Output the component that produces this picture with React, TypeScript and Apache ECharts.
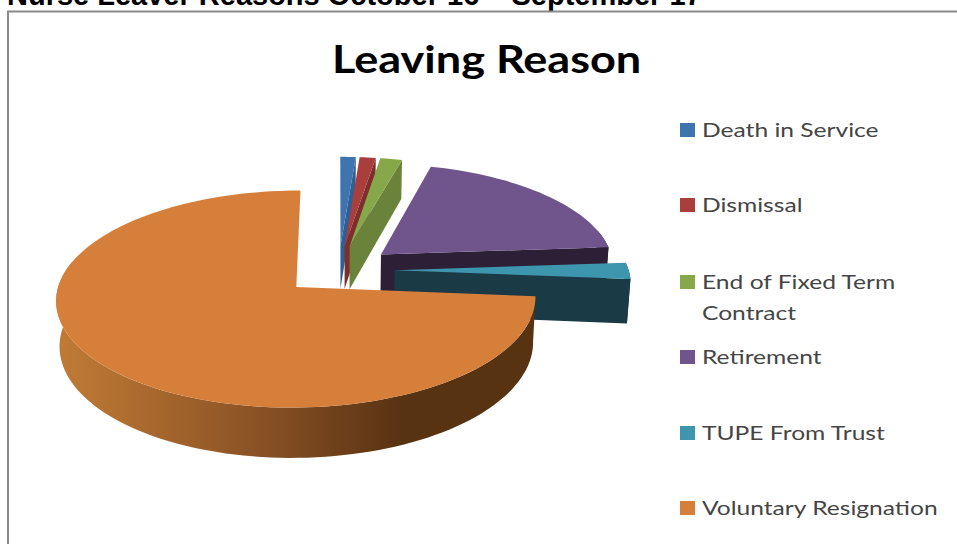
import React, { useEffect, useRef } from "react";
import * as echarts from "echarts";

const CATEGORIES = [
  "Death in Service",
  "Dismissal",
  "End of Fixed Term Contract",
  "Retirement",
  "TUPE From Trust",
  "Voluntary Resignation",
];
const LEGEND_LINES = [
  ["Death in Service"],
  ["Dismissal"],
  ["End of Fixed Term", "Contract"],
  ["Retirement"],
  ["TUPE From Trust"],
  ["Voluntary Resignation"],
];
const SHARES = [1.2, 1.25, 1.7, 19.7, 2.5, 73.65];
const TOP_COLORS = ["#3f74ae", "#a83f3c", "#86a74a", "#70548c", "#3d96ae", "#d67f3a"];
const WALL_COLORS = ["#2f5f96", "#7e2f2d", "#6a8239", "#2d2036", "#1a3a46", "#5a3414"];

// Projection of the tilted pie: plan coordinates are in radius units.
const CX = 338.4;
const CY = 270;
const RADIUS_X = 234;
const RADIUS_Y = 103.5;
const PERSPECTIVE = 0.108;
const EXPLODE = 0.24;
const THICKNESS = 44;

const project = (u: number, v: number, low: boolean) => {
  const s = 1 / (1 - PERSPECTIVE * v);
  const shrink = low ? 0.988 : 1;
  return [CX + RADIUS_X * u * s * shrink, CY + RADIUS_Y * v * s + (low ? THICKNESS * s : 0)];
};

const rad = (deg: number) => (deg * Math.PI) / 180;

const sliceRanges = () => {
  const total = SHARES.reduce((a, b) => a + b, 0);
  let acc = 0;
  return SHARES.map((value) => {
    const start = (acc / total) * 360;
    acc += value;
    return [start, (acc / total) * 360];
  });
};

const renderSlice = (params: any) => {
  const i = params.dataIndex;
  const [start, end] = sliceRanges()[i];
  const mid = rad((start + end) / 2);
  const ou = EXPLODE * Math.sin(mid);
  const ov = -EXPLODE * Math.cos(mid);
  const rim = (deg: number, low: boolean) =>
    project(ou + Math.sin(rad(deg)), ov - Math.cos(rad(deg)), low);
  const steps = Math.max(4, Math.ceil((end - start) / 2));
  const topArc: number[][] = [];
  const wallTop: number[][] = [];
  const wallLow: number[][] = [];
  for (let k = 0; k <= steps; k++) {
    const a = start + ((end - start) * k) / steps;
    topArc.push(rim(a, false));
    // The far part of the rim is hidden by the slice's own top face.
    if (Math.cos(rad(a)) < 0.25) {
      wallTop.push(rim(a, false));
      wallLow.push(rim(a, true));
    }
  }
  const apexTop = project(ou, ov, false);
  const apexLow = project(ou, ov, true);
  const isLast = i === SHARES.length - 1;
  const wallFill = isLast
    ? new echarts.graphic.LinearGradient(0, 0, 1, 0, [
        { offset: 0, color: "#c07b36" },
        { offset: 0.18, color: "#ab6a2e" },
        { offset: 0.45, color: "#854f24" },
        { offset: 0.72, color: "#583312" },
        { offset: 1, color: "#583312" },
      ])
    : WALL_COLORS[i];
  const children: any[] = [];
  if (wallTop.length > 1) {
    children.push({
      type: "polygon",
      shape: { points: [...wallTop, ...wallLow.slice().reverse()] },
      style: { fill: wallFill },
    });
  }
  if (!isLast) {
    children.push({
      type: "polygon",
      shape: { points: [apexTop, topArc[steps], rim(end, true), apexLow] },
      style: { fill: WALL_COLORS[i] },
    });
  }
  children.push({
    type: "polygon",
    shape: { points: [apexTop, ...topArc] },
    style: { fill: TOP_COLORS[i] },
  });
  return { type: "group", children };
};

const LEGEND_ROWS = [130, 205, 282, 357, 433, 508];

const legendGraphics = () =>
  CATEGORIES.flatMap((name, i) => [
    {
      type: "rect",
      shape: { x: 680, y: LEGEND_ROWS[i] - 7, width: 15, height: 14 },
      style: { fill: TOP_COLORS[i] },
    },
    ...LEGEND_LINES[i].map((line, k) => ({
      type: "text",
      x: 702,
      y: LEGEND_ROWS[i] - 1 + k * 31,
      scaleX: 1.23,
      style: {
        text: line,
        fill: "#454545",
        font: '20px "Lato", sans-serif',
        textVerticalAlign: "middle",
      },
    })),
  ]);

export default function App() {
  const ref = useRef<HTMLDivElement>(null);
  useEffect(() => {
    const chart = echarts.init(ref.current!, undefined, { renderer: "svg" });
    chart.setOption({
      animation: false,
      backgroundColor: "#ffffff",
      series: [
        {
          type: "custom",
          coordinateSystem: "none",
          renderItem: renderSlice,
          data: CATEGORIES.map((name, i) => ({ name, value: SHARES[i] })),
        },
      ],
      graphic: [
        {
          type: "text",
          x: 7,
          y: 9,
          style: {
            text: "Nurse Leaver Reasons October 16 – September 17",
            fill: "#000000",
            font: 'bold 29px "Liberation Sans", sans-serif',
            textVerticalAlign: "bottom",
          },
        },
        {
          type: "polyline",
          shape: { points: [[8, 544], [8, 11.5], [957, 11.5]] },
          style: { stroke: "#8a8a8a", lineWidth: 2, fill: "none" },
        },
        {
          type: "text",
          x: 332,
          y: 58,
          scaleX: 1.185,
          style: {
            text: "Leaving Reason",
            fill: "#000000",
            font: 'bold 38px "Lato", sans-serif',
            textVerticalAlign: "middle",
          },
        },
        ...legendGraphics(),
      ],
    });
    return () => chart.dispose();
  }, []);
  return <div ref={ref} style={{ position: "fixed", left: 0, top: 0, width: 957, height: 544 }} />;
}
